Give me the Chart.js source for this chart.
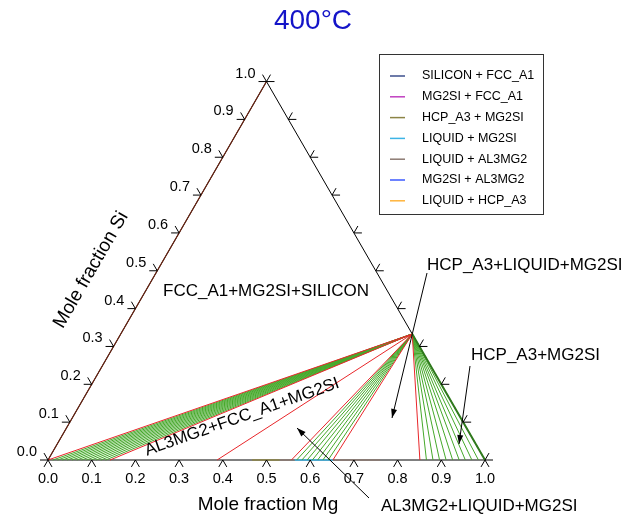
<!DOCTYPE html>
<html>
<head>
<meta charset="utf-8">
<title>Al-Mg-Si 400°C</title>
<script src="https://cdn.jsdelivr.net/npm/chart.js@4.4.0/dist/chart.umd.min.js"></script>
<style>
  html, body { margin: 0; padding: 0; background: #fff; }
</style>
</head>
<body>
<canvas id="chart" width="625" height="519"></canvas>
<script>
// isothermal section Al-Mg-Si, compositions as [xMg, xSi]
const mg2si = [0.667, 0.333];

// tie line ends on the Al-Mg edge, all running to Mg2Si
const fccBoundaryMg = [0.0, 0.142];
const fccTieMg = [0.011, 0.022, 0.033, 0.044, 0.055, 0.066, 0.077, 0.088, 0.099, 0.110, 0.121, 0.132];
const al3mg2Mg = [0.387];
const liquidBoundaryMg = [0.557, 0.652];
const liquidTieMg = [0.569, 0.581, 0.593, 0.605, 0.617, 0.629, 0.641];
const hcpBoundaryMg = [0.851];
const hcpTieMg = [0.866, 0.881, 0.896, 0.911, 0.926, 0.941, 0.955, 0.970, 0.985];

// two-phase segments lying on the Al-Mg edge
const edgeSegmentsMg = [[0.467, 0.530], [0.530, 0.557], [0.565, 0.652], [0.652, 0.760]];
const edgeSegmentsPhase = ["HCP_A3 + MG2SI", "LIQUID + AL3MG2", "LIQUID + MG2SI", "LIQUID + AL3MG2"];

const tickValues = [0.0, 0.1, 0.2, 0.3, 0.4, 0.5, 0.6, 0.7, 0.8, 0.9, 1.0];
const tickLabels = ["0.0", "0.1", "0.2", "0.3", "0.4", "0.5", "0.6", "0.7", "0.8", "0.9", "1.0"];

const legendLabels = ["SILICON + FCC_A1", "MG2SI + FCC_A1", "HCP_A3 + MG2SI", "LIQUID + MG2SI",
    "LIQUID + AL3MG2", "MG2SI + AL3MG2", "LIQUID + HCP_A3"];
const legendColors = ["#3c4f8c", "#c040c0", "#8c8446", "#3cb4e6", "#8c7a72", "#3c5aff", "#ffb43c"];

const S3 = Math.sqrt(3) / 2;
const FONT = '"Liberation Sans", Arial, sans-serif';
const GREEN = "#45a82a";
const RED = "#e8262a";

function tern(mg, si) {
    return { x: mg + si / 2, y: si * S3 };
}

const datasets = [];

function addLine(points, color, width, order) {
    datasets.push({
        data: points.map(p => tern(p[0], p[1])),
        borderColor: color,
        borderWidth: width,
        showLine: true,
        pointRadius: 0,
        fill: false,
        tension: 0,
        order: order
    });
}

function addTies(list, color, order) {
    list.forEach(mg => addLine([[mg, 0], mg2si], color, 1, order));
}

// triangle frame
addLine([[0, 0], [1, 0], [0, 1], [0, 0]], "#000", 1, 6);
// Al-Si edge carries the SILICON + FCC_A1 boundary
addLine([[0, 0], [0, 1]], "#6a2412", 1.2, 1);
// Mg2Si - Mg edge
addLine([mg2si, [1, 0]], "#2f7a1c", 2, 1);

edgeSegmentsMg.forEach((s, i) => {
    const c = legendColors[legendLabels.indexOf(edgeSegmentsPhase[i])];
    addLine([[s[0], 0], [s[1], 0]], c, 1.5, 5);
});

addTies(fccTieMg, GREEN, 4);
addTies(liquidTieMg, GREEN, 4);
addTies(hcpTieMg, GREEN, 4);
addTies(fccBoundaryMg, RED, 3);
addTies(al3mg2Mg, RED, 3);
addTies(liquidBoundaryMg, RED, 3);
addTies(hcpBoundaryMg, RED, 3);

function seg(ctx, x1, y1, x2, y2) {
    ctx.beginPath();
    ctx.moveTo(x1, y1);
    ctx.lineTo(x2, y2);
    ctx.stroke();
}

function arrow(ctx, x1, y1, x2, y2) {
    seg(ctx, x1, y1, x2, y2);
    const a = Math.atan2(y2 - y1, x2 - x1);
    const L = 9, W = 3;
    ctx.beginPath();
    ctx.moveTo(x2, y2);
    ctx.lineTo(x2 - L * Math.cos(a) + W * Math.sin(a), y2 - L * Math.sin(a) - W * Math.cos(a));
    ctx.lineTo(x2 - L * Math.cos(a) - W * Math.sin(a), y2 - L * Math.sin(a) + W * Math.cos(a));
    ctx.closePath();
    ctx.fill();
}

const ternaryDecor = {
    id: "ternaryDecor",
    afterDraw(chart) {
        const ctx = chart.ctx;
        const xs = chart.scales.x, ys = chart.scales.y;
        const P = (mg, si) => {
            const t = tern(mg, si);
            return [xs.getPixelForValue(t.x), ys.getPixelForValue(t.y)];
        };
        ctx.save();
        ctx.strokeStyle = "#000";
        ctx.fillStyle = "#000";
        ctx.lineWidth = 1;

        // ticks on the three edges
        const TL = 8, dx = TL * 0.5, dy = TL * S3;
        ctx.font = "14.5px " + FONT;
        tickValues.forEach((v, i) => {
            let [x, y] = P(v, 0);
            seg(ctx, x, y, x - dx, y + dy);
            seg(ctx, x, y, x + dx, y + dy);
            ctx.textAlign = "center";
            ctx.textBaseline = "middle";
            ctx.fillText(tickLabels[i], x, y + 19);

            [x, y] = P(0, v);
            seg(ctx, x, y, x - TL, y);
            seg(ctx, x, y, x - dx, y - dy);
            ctx.textAlign = "right";
            ctx.fillText(tickLabels[i], x - 11, y - 8);

            [x, y] = P(1 - v, v);
            seg(ctx, x, y, x + TL, y);
            seg(ctx, x, y, x + dx, y - dy);
        });

        // axis titles
        ctx.font = "19px " + FONT;
        ctx.textAlign = "center";
        ctx.textBaseline = "middle";
        ctx.fillText("Mole fraction Mg", 268, 505);
        ctx.save();
        ctx.translate(91, 270);
        ctx.rotate(-Math.PI / 3);
        ctx.fillText("Mole fraction Si", 0, 0);
        ctx.restore();

        // temperature
        ctx.fillStyle = "#1414c8";
        ctx.font = "28px " + FONT;
        ctx.fillText("400°C", 313, 21);
        ctx.fillStyle = "#000";

        // phase region labels
        ctx.font = "17px " + FONT;
        ctx.textAlign = "left";
        ctx.textBaseline = "alphabetic";
        ctx.fillText("FCC_A1+MG2SI+SILICON", 163, 296);
        ctx.fillText("HCP_A3+LIQUID+MG2SI", 427, 270);
        ctx.fillText("HCP_A3+MG2SI", 471, 360);
        ctx.fillText("AL3MG2+LIQUID+MG2SI", 381, 511);
        ctx.save();
        ctx.translate(242, 417);
        ctx.rotate(-19.5 * Math.PI / 180);
        ctx.textAlign = "center";
        ctx.textBaseline = "middle";
        ctx.fillText("AL3MG2+FCC_A1+MG2SI", 0, 0);
        ctx.restore();

        arrow(ctx, 369, 498, 297, 428);
        arrow(ctx, 427, 273, 392, 418);
        arrow(ctx, 470, 366, 459, 444);

        // legend box
        ctx.strokeStyle = "#333";
        ctx.strokeRect(379.5, 54.5, 164, 160);
        ctx.font = "12.5px " + FONT;
        ctx.textBaseline = "middle";
        legendLabels.forEach((lab, i) => {
            const y = 76 + i * 20.8;
            ctx.strokeStyle = legendColors[i];
            ctx.lineWidth = 1.5;
            seg(ctx, 390, y, 405, y);
            ctx.fillStyle = "#000";
            ctx.fillText(lab, 422, y);
        });
        ctx.restore();
    }
};

new Chart(document.getElementById("chart"), {
    type: "scatter",
    data: { datasets: datasets },
    options: {
        responsive: false,
        animation: false,
        events: [],
        layout: { padding: 0 },
        scales: {
            x: { type: "linear", min: -48 / 437, max: 577 / 437, bounds: "data", display: false },
            y: { type: "linear", min: -59 / 437, max: 460 / 437, bounds: "data", display: false }
        },
        plugins: {
            legend: { display: false },
            tooltip: { enabled: false }
        }
    },
    plugins: [ternaryDecor]
});
</script>
</body>
</html>
